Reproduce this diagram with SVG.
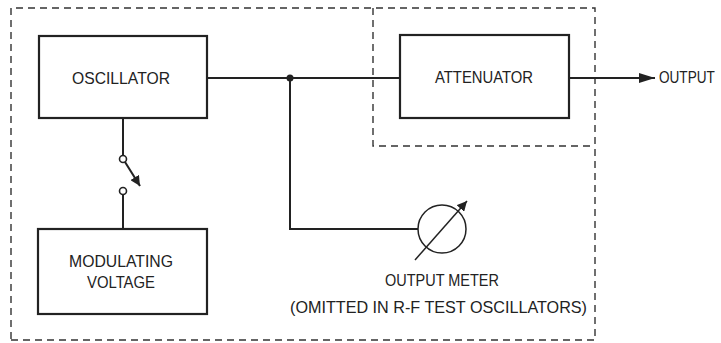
<svg xmlns="http://www.w3.org/2000/svg" width="721" height="343" viewBox="0 0 721 343">
<style>
.box{fill:#fff;stroke:#222;stroke-width:2.2}
.dash{fill:none;stroke:#333;stroke-width:1.4;stroke-dasharray:7 5}
.ln{fill:none;stroke:#222;stroke-width:2}
.thin{fill:none;stroke:#222;stroke-width:1.5}
.t{font-family:"Liberation Sans","DejaVu Sans",sans-serif;font-size:17px;fill:#222;text-anchor:start}
</style>
<defs>
<marker id="ah" viewBox="0 0 10 10" refX="10" refY="5" markerWidth="10" markerHeight="10" markerUnits="userSpaceOnUse" orient="auto">
<path d="M0,0 L10,5 L0,10 z" fill="#222"/>
</marker>
<marker id="ahbig" viewBox="0 0 16 10" refX="16" refY="5" markerWidth="16" markerHeight="10" markerUnits="userSpaceOnUse" orient="auto">
<path d="M0,0 L16,5 L0,10 z" fill="#222"/>
</marker>
</defs>
<rect width="721" height="343" fill="#fff"/>
<g id="enclosures">
<path class="dash" d="M11,339 L11,8 L595,8 L595,340 L11,340"/>
<path class="dash" d="M373,8 L373,146 L595,146"/>
</g>
<g id="connectors">
<path class="ln" d="M207,78 L400,78"/>
<circle cx="290" cy="78" r="3.5" fill="#222"/>
<path class="ln" d="M290,78 L290,229 L418,229"/>
<path class="ln" d="M569,78 L655,78" marker-end="url(#ahbig)"/>
<path class="ln" d="M123,118 L123,155.5"/>
<circle cx="123" cy="159" r="3.5" fill="#fff" stroke="#222" stroke-width="1.6"/>
<path class="ln" d="M125,162 L140,186" marker-end="url(#ah)"/>
<circle cx="123" cy="191" r="3.5" fill="#fff" stroke="#222" stroke-width="1.6"/>
<path class="ln" d="M123,194.5 L123,229"/>
</g>
<g id="oscillator">
<rect class="box" x="39" y="36" width="168" height="82"/>
<text class="t" x="72" y="84" textLength="98" lengthAdjust="spacingAndGlyphs">OSCILLATOR</text>
</g>
<g id="attenuator">
<rect class="box" x="400" y="35" width="169" height="83"/>
<text class="t" x="435" y="83" textLength="98" lengthAdjust="spacingAndGlyphs">ATTENUATOR</text>
</g>
<g id="output">
<text class="t" transform="translate(659,83) scale(0.8,1)" x="0" y="0">OUTPUT</text>
</g>
<g id="modulating-voltage">
<rect class="box" x="38" y="229" width="169" height="85"/>
<text class="t" x="69" y="267" textLength="104" lengthAdjust="spacingAndGlyphs">MODULATING</text>
<text class="t" x="87" y="288" textLength="68" lengthAdjust="spacingAndGlyphs">VOLTAGE</text>
</g>
<g id="output-meter">
<circle cx="442" cy="229" r="24" class="thin"/>
<path class="thin" d="M415,260 L467,201" marker-end="url(#ah)"/>
<text class="t" x="385" y="286" textLength="114" lengthAdjust="spacingAndGlyphs">OUTPUT METER</text>
<text class="t" x="290" y="313" textLength="297" lengthAdjust="spacingAndGlyphs">(OMITTED IN R-F TEST OSCILLATORS)</text>
</g>
</svg>
